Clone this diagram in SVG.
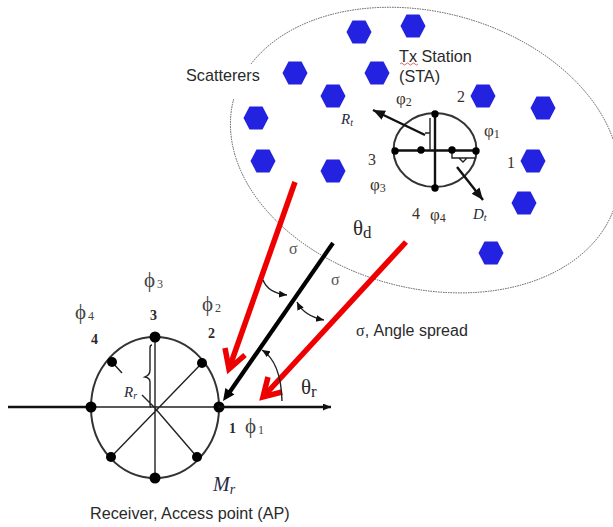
<svg xmlns="http://www.w3.org/2000/svg" width="613" height="527" viewBox="0 0 613 527">
<style>
text{font-family:"Liberation Sans",Arial,sans-serif;fill:#2a2a2a}
.n{font-size:16.2px}
.s{font-family:"Liberation Serif","Times New Roman",serif}
.p{font-family:"Liberation Serif","Times New Roman",serif;font-size:17px;fill:#3a3028}
.u{font-family:"Liberation Serif","Times New Roman",serif;font-size:16px;fill:#3a3028}
.f{font-family:"Liberation Serif","Times New Roman",serif;font-size:21px;fill:#444}
.i{font-family:"Liberation Serif","Times New Roman",serif;font-style:italic;fill:#1f2a40}
.b{font-family:"Liberation Serif","Times New Roman",serif;font-weight:bold;font-size:14px}
.o{fill:none;stroke:#333;stroke-width:2}
.l{stroke:#222;stroke-width:1.4;fill:none}
.t{stroke:#111;stroke-width:2.4;fill:none}
.r{stroke:#ee0000;stroke-width:5.5;fill:none}
.d{fill:#000}
</style>
<defs>
<polygon id="h" points="-12.5,0 -6.5,-11.5 6.5,-11.5 12.5,0 6.5,11.5 -6.5,11.5" fill="#2222e0"/>
<marker id="a" markerUnits="userSpaceOnUse" markerWidth="14" markerHeight="12" refX="12" refY="5" orient="auto"><path d="M0,0L12,5L0,10z" fill="#111"/></marker>
<marker id="c" markerUnits="userSpaceOnUse" markerWidth="9" markerHeight="8" refX="8" refY="3.5" orient="auto-start-reverse"><path d="M0,0L8,3.5L0,7z" fill="#111"/></marker>
</defs>
<g id="scatter-region">
<path d="M251,64.050A198,138 15 1 1 233.750,98.750" fill="none" stroke="#555" stroke-width="1" stroke-dasharray="1.5 1"/>
<use href="#h" x="359" y="32"/><use href="#h" x="413" y="26"/><use href="#h" x="295" y="73"/><use href="#h" x="377" y="73"/><use href="#h" x="333" y="96"/><use href="#h" x="256" y="118"/><use href="#h" x="263" y="161"/><use href="#h" x="333" y="171"/><use href="#h" x="483" y="96"/><use href="#h" x="543" y="108"/><use href="#h" x="533" y="161"/><use href="#h" x="524" y="203"/><use href="#h" x="491" y="253"/>
<text class="n" x="186" y="81">Scatterers</text>
<text class="n" x="399" y="62">Tx Station</text>
<text class="n" x="399" y="82">(STA)</text>
<path d="M400,64q1.500,-2 3,0t3,0t3,0t3,0t3,0t3,0" fill="none" stroke="#d04040" stroke-width="0.8"/>
</g>
<g id="tx-array">
<ellipse cx="435" cy="150" rx="41.500" ry="37" class="o"/>
<path class="t" d="M395,150.500H476M435,114V188"/>
<path class="l" d="M430,118V150M430,133H425M452,152V158H475M459,158l4,4l4,-4"/>
<circle class="d" cx="395" cy="151" r="3.700"/><circle class="d" cx="421" cy="150" r="3.700"/><circle class="d" cx="452" cy="150" r="3.700"/><circle class="d" cx="476" cy="151" r="3.700"/><circle class="d" cx="435" cy="114" r="3.700"/><circle class="d" cx="435" cy="188" r="3.700"/>
<text class="u" x="457" y="102">2</text>
<text class="u" x="507" y="168">1</text>
<text class="u" x="368" y="165">3</text>
<text class="u" x="412" y="219">4</text>
<text class="p" x="396" y="104">φ<tspan font-size="12" dy="2">2</tspan></text>
<text class="p" x="484" y="136">φ<tspan font-size="12" dy="2">1</tspan></text>
<text class="p" x="370" y="190">φ<tspan font-size="12" dy="2">3</tspan></text>
<text class="p" x="430" y="220">φ<tspan font-size="12" dy="2">4</tspan></text>
<text class="i" x="341" y="124" font-size="15">R<tspan font-size="10" dy="2">t</tspan></text>
<text class="i" x="473" y="219" font-size="15">D<tspan font-size="10" dy="2">t</tspan></text>
</g>
<g id="rx-array">
<ellipse cx="155" cy="407.500" rx="64" ry="70.500" class="o"/>
<path class="t" d="M8,407H92"/>
<path class="l" d="M92,407H218M155,337V478M202,363L111,457M154,407L197,457M112,362L122,373"/>
<path class="l" stroke-width="1" d="M152,345q-2,0 -2,3v22q0,5 -5,7q5,1 5,5v22q0,3 1,3M142,395l12,12"/>
<circle class="d" cx="91" cy="407" r="5.500"/><circle class="d" cx="155" cy="337" r="5.500"/><circle class="d" cx="219" cy="407" r="5.500"/><circle class="d" cx="155" cy="478" r="5.500"/><circle class="d" cx="112" cy="362" r="5"/><circle class="d" cx="202" cy="363" r="5"/><circle class="d" cx="111" cy="457" r="5"/><circle class="d" cx="197" cy="457" r="5"/>
<text class="b" x="150" y="320">3</text><text class="b" x="91" y="344">4</text><text class="b" x="208" y="338">2</text><text class="b" x="229" y="433">1</text>
<text class="f" x="144" y="287">ϕ<tspan font-size="12" dx="2" dy="1">3</tspan></text>
<text class="f" x="75" y="319">ϕ<tspan font-size="12" dx="2" dy="1">4</tspan></text>
<text class="f" x="202" y="311">ϕ<tspan font-size="12" dx="2" dy="1">2</tspan></text>
<text class="f" x="245" y="433">ϕ<tspan font-size="12" dx="2" dy="1">1</tspan></text>
<text class="i" x="124" y="397" font-size="15">R<tspan font-size="10" dy="2">r</tspan></text>
<text class="i" x="213" y="491" font-size="20">M<tspan font-size="14" dy="3">r</tspan></text>
<text class="n" x="90" y="519">Receiver, Access point (AP)</text>
</g>
<g id="connectors">
<path d="M425,135L373,110" class="t" marker-end="url(#a)"/>
<path d="M457,167L483,200" class="t" marker-end="url(#a)"/>
<path d="M218,407H331" class="t" marker-end="url(#c)"/>
<path d="M333,243L229,393" stroke="#000" stroke-width="4.200" fill="none"/>
<path d="M223,401L225.400,388L234.400,394.400z" fill="#000"/>
<path class="r" d="M295,182L230,366"/>
<path class="r" d="M225,348L229,369L245,355"/>
<path class="r" d="M406,242L264,396"/>
<path class="r" d="M268,377L263,397L282,392"/>
<path class="l" d="M263,280Q268,293 287,295" marker-end="url(#c)"/>
<path class="l" d="M297,302Q304,316 324,320" marker-start="url(#c)" marker-end="url(#c)"/>
<path class="l" d="M282,401Q281,362 262,350" marker-end="url(#c)"/>
</g>
<g id="labels">
<text class="s" x="353" y="235" font-size="21">θ<tspan font-size="17" dy="3">d</tspan></text>
<text class="s" x="289" y="254" font-size="16" style="fill:#555">σ</text>
<text class="s" x="331" y="285" font-size="16" style="fill:#555">σ</text>
<text x="356" y="336" font-size="16"><tspan font-family="Liberation Serif">σ</tspan>, Angle spread</text>
<text class="s" x="301" y="394" font-size="21">θ<tspan font-size="17" dy="3">r</tspan></text>
</g>
</svg>
